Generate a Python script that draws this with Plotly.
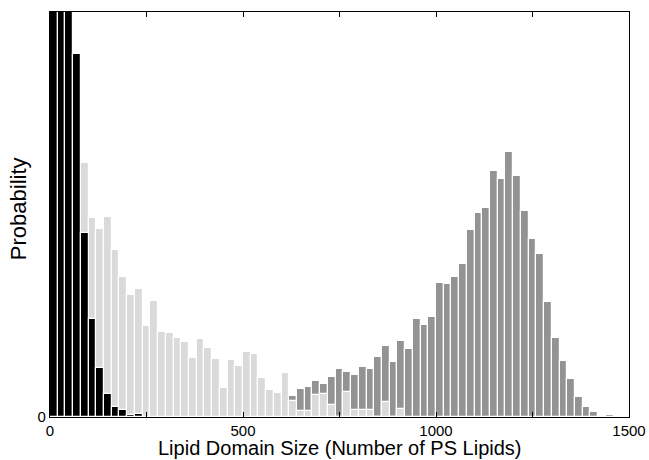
import plotly.graph_objects as go

# Bin centres (bins 20 lipids wide)
bin_centers = list(range(10, 1460, 20))

# Series values (probability)
black_values = [0.0900, 0.0760, 0.0560, 0.0363, 0.0184, 0.0098, 0.0049, 0.0023,
                0.0010, 0.0007, 0.0002, 0.0003]
black_start = 0

light_values = [0.0120, 0.0200, 0.0250, 0.0270, 0.0254, 0.0199, 0.0188, 0.0200,
                0.0167, 0.0140, 0.0122, 0.0128, 0.0091, 0.0116, 0.0085, 0.0084,
                0.0079, 0.0075, 0.0059, 0.0078, 0.0069, 0.0058, 0.0029, 0.0057,
                0.0051, 0.0065, 0.0063, 0.0039, 0.0027, 0.0024, 0.0044, 0.0016,
                0.0006, 0.0006, 0.0022, 0.0023, 0.0012, 0.0000, 0.0025, 0.0007,
                0.0007, 0.0007, 0.0000, 0.0015, 0.0000, 0.0008]
light_start = 0

dark_values = [0.0003, 0.0006, 0.0012, 0.0021, 0.0028, 0.0030, 0.0036, 0.0033,
               0.0040, 0.0048, 0.0045, 0.0042, 0.0050, 0.0048, 0.0060, 0.0071,
               0.0055, 0.0076, 0.0068, 0.0098, 0.0092, 0.0100, 0.0134, 0.0133,
               0.0140, 0.0153, 0.0187, 0.0204, 0.0209, 0.0246, 0.0238, 0.0265,
               0.0241, 0.0206, 0.0178, 0.0163, 0.0115, 0.0079, 0.0056, 0.0038,
               0.0020, 0.0010, 0.0005, 0.0001, 0.0002]
dark_start = 28

x_tick_vals = [0, 250, 500, 750, 1000, 1250, 1500]
x_tick_text = ["0", "", "500", "", "1000", "", "1500"]

x_title = "Lipid Domain Size (Number of PS Lipids)"
y_title = "Probability"

FONT = "Liberation Sans, Arial, Helvetica, sans-serif"


def series(values, start, color):
    xs = bin_centers[start:start + len(values)]
    return go.Bar(
        x=xs, y=values, width=20,
        marker=dict(color=color, line=dict(color="white", width=1.2)),
        showlegend=False, hoverinfo="x+y",
    )


fig = go.Figure()
fig.add_trace(series(dark_values, dark_start, "#939393"))
fig.add_trace(series(light_values, light_start, "#dadada"))
fig.add_trace(series(black_values, black_start, "#000000"))

fig.update_layout(
    width=649, height=460,
    margin=dict(l=50, r=20, t=12, b=43, autoexpand=False),
    barmode="overlay", bargap=0,
    paper_bgcolor="white", plot_bgcolor="white",
    font=dict(family=FONT, color="black", size=15),
    annotations=[
        dict(text=x_title, xref="paper", yref="paper", x=0.5, y=-0.077,
             xanchor="center", yanchor="middle", showarrow=False,
             font=dict(size=20)),
        dict(text=y_title, xref="paper", yref="paper", x=-0.053, y=0.514,
             xanchor="center", yanchor="middle", showarrow=False,
             textangle=-90, font=dict(size=22)),
    ],
)
fig.update_xaxes(
    range=[0, 1500], tickvals=x_tick_vals, ticktext=x_tick_text,
    ticks="inside", ticklen=5, tickcolor="black", tickwidth=1,
    showline=True, linecolor="black", linewidth=1.2, mirror="ticks",
    showgrid=False, zeroline=False, automargin=False,
    tickfont=dict(size=15),
)
fig.update_yaxes(
    range=[0, 0.0405], tickvals=[0], ticktext=["0"],
    ticks="", showline=True, linecolor="black", linewidth=1.2, mirror=True,
    showgrid=False, zeroline=False, automargin=False,
    tickfont=dict(size=15),
)

# Remove the browser's default page margin so the figure fills the window
fig.write_html(
    "out.html",
    config={"displayModeBar": False},
    post_script="document.body.style.margin='0';document.body.style.overflow='hidden';",
)
